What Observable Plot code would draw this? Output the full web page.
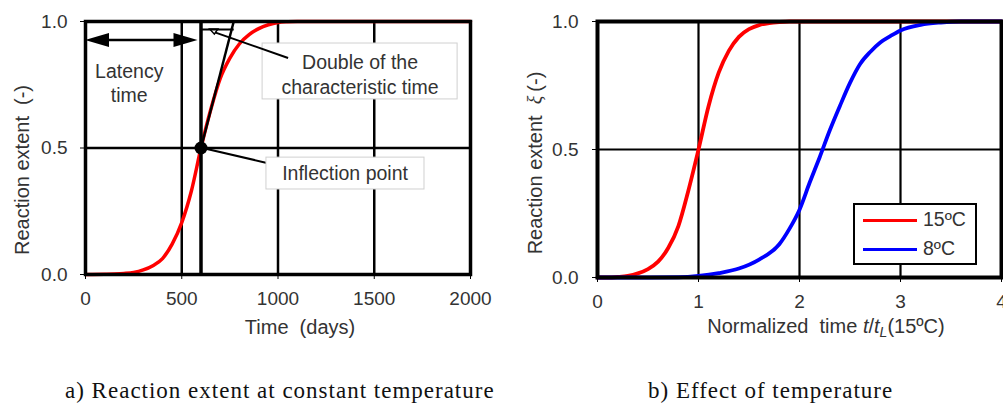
<!DOCTYPE html>
<html><head><meta charset="utf-8">
<script src="https://cdn.jsdelivr.net/npm/d3@7"></script>
<script src="https://cdn.jsdelivr.net/npm/@observablehq/plot@0.6"></script>
<style>
body{margin:0;background:#fff;}
#wrap{position:relative;width:1003px;height:405px;overflow:hidden;font-family:"Liberation Sans",Arial,sans-serif;color:#333;}
.panel{position:absolute;top:0;}
.cap{position:absolute;font-family:"Liberation Serif",serif;font-size:23px;letter-spacing:1px;color:#111;white-space:nowrap;}
.lab{position:absolute;font-size:20px;white-space:nowrap;color:#333;}
.rot{transform:translate(-50%,-50%) rotate(-90deg);}
.ctr{transform:translate(-50%,-50%);}
#legend{position:absolute;left:853px;top:203px;width:120px;height:58px;border:2.5px solid #000;background:#fff;}
.lg{position:absolute;left:8px;width:54px;height:0;border-top:3.5px solid;}
.lt{position:absolute;left:68px;font-size:19.5px;color:#333;}
</style></head><body><div id="wrap"></div>
<script>
// ---- data ----
const timeDays = [0,100,150,200,250,300,350,400,450,500,550,600,650,700,750,800,850,900,950,1000,1050,1100,1500,2000];
const extentA  = [0,0.001,0.002,0.004,0.008,0.018,0.035,0.063,0.12,0.205,0.33,0.5,0.65,0.775,0.855,0.912,0.948,0.972,0.987,0.996,0.999,1,1,1];

const tNorm15  = [0,0.1,0.2,0.3,0.4,0.5,0.6,0.7,0.8,0.9,1.0,1.1,1.2,1.3,1.4,1.5,1.6,1.7,1.8,1.9,2.0,3.0,4.0];
const extent15 = [0,0,0.002,0.006,0.016,0.033,0.062,0.115,0.2,0.34,0.5,0.67,0.8,0.885,0.94,0.97,0.986,0.994,0.998,1,1,1,1];

const tNorm8   = [0,0.5,0.8,1.0,1.2,1.4,1.6,1.8,1.9,2.0,2.1,2.2,2.3,2.4,2.5,2.6,2.7,2.8,2.9,3.0,3.2,3.4,3.6,4.0];
const extent8  = [0,0,0.001,0.006,0.017,0.035,0.07,0.13,0.19,0.265,0.37,0.47,0.575,0.67,0.76,0.834,0.881,0.918,0.943,0.965,0.987,0.996,1,1];

const xTicksA = [0,500,1000,1500,2000];
const xTicksB = [0,1,2,3,4];
const yTicks  = [0,0.5,1];
const seriesNames = ["15ºC","8ºC"];
const seriesColors = ["#ff0000","#0000ff"];
const latencyTime = 600;      // inflection / latency time (days)
const tangentTop = 770;       // tangent reaches 1.0
const latencyArrowY = 0.925;
const bracketY = 0.968;

const dataA = timeDays.map((t,i)=>({t, y: extentA[i]}));
const dataB = [
  ...tNorm15.map((t,i)=>({t, y: extent15[i], s: seriesNames[0]})),
  ...tNorm8.map((t,i)=>({t, y: extent8[i], s: seriesNames[1]}))
];

const wrap = document.getElementById("wrap");
const fmt = d3.format(".1f");
const baseStyle = {fontFamily:"Liberation Sans, Arial, sans-serif", fontSize:"19px", color:"#333", background:"transparent", overflow:"visible"};

// ---- panel a ----
const left = Plot.plot({
  width: 500, height: 340,
  marginLeft: 85, marginRight: 30, marginTop: 21, marginBottom: 66,
  style: baseStyle,
  x: {domain:[0,2000]},
  y: {domain:[0,1]},
  marks: [
    Plot.ruleX([500,1000,1500], {stroke:"#000", strokeWidth:2.5}),
    Plot.ruleY([0.5], {stroke:"#000", strokeWidth:2.5}),
    Plot.line(dataA, {x:"t", y:"y", stroke:seriesColors[0], strokeWidth:3.5, curve:"monotone-x"}),
    Plot.ruleX([latencyTime], {stroke:"#000", strokeWidth:3.5}),
    Plot.link([{x1:latencyTime, y1:0.5, x2:tangentTop, y2:1}], {x1:"x1", y1:"y1", x2:"x2", y2:"y2", stroke:"#000", strokeWidth:2.5}),
    Plot.link([{x1:latencyTime, x2:tangentTop, y:bracketY}], {x1:"x1", x2:"x2", y1:"y", y2:"y", stroke:"#000", strokeWidth:2}),
    Plot.dot([{x:latencyTime, y:0.5}], {x:"x", y:"y", r:6.5, fill:"#000"}),
    Plot.frame({stroke:"#000", strokeWidth:3.5}),
    Plot.axisX({ticks:xTicksA, tickFormat:d=>String(d), tickSize:5, tickPadding:12, stroke:"#000", fill:"#333", label:null}),
    Plot.axisY({ticks:yTicks, tickFormat:fmt, tickSize:5, tickPadding:13, stroke:"#000", fill:"#333", label:null})
  ]
});
left.classList.add("panel");
left.style.left = "0px";
wrap.appendChild(left);

// annotations for panel a (drawn with panel's own scales)
{
  const sx = left.scale("x").apply, sy = left.scale("y").apply;
  const g = d3.select(left).append("g");
  const ay = sy(latencyArrowY), x0 = sx(0), x1 = sx(latencyTime) - 3;
  g.append("line").attr("x1",x0+10).attr("x2",x1-10).attr("y1",ay).attr("y2",ay).attr("stroke","#000").attr("stroke-width",2.5);
  g.append("path").attr("d",`M${x0},${ay}L${x0+24},${ay-7}L${x0+24},${ay+7}Z`).attr("fill","#000");
  g.append("path").attr("d",`M${x1},${ay}L${x1-24},${ay-7}L${x1-24},${ay+7}Z`).attr("fill","#000");
  const tx = sx(230);
  g.append("text").attr("x",tx).attr("y",sy(0.8)).attr("text-anchor","middle").attr("dy","0.35em").attr("fill","#333").attr("font-size",19.5).text("Latency");
  g.append("text").attr("x",tx).attr("y",sy(0.705)).attr("text-anchor","middle").attr("dy","0.35em").attr("fill","#333").attr("font-size",19.5).text("time");

  // box: double of characteristic time
  g.append("rect").attr("x",sx(920)).attr("y",sy(0.913)).attr("width",sx(1933)-sx(920)).attr("height",sy(0.692)-sy(0.913))
    .attr("fill","#fff").attr("stroke","#d0d0d0").attr("stroke-width",1);
  g.append("line").attr("x1",sx(675)).attr("y1",sy(0.955)).attr("x2",sx(1055)).attr("y2",sy(0.854)).attr("stroke","#000").attr("stroke-width",2);
  g.append("path").attr("d",`M${sx(648)},${sy(bracketY)}L${sx(690)},${sy(bracketY)}L${sx(672)},${sy(0.948)}Z`).attr("fill","none").attr("stroke","#000").attr("stroke-width",1.5);
  const bx = sx(1429);
  g.append("text").attr("x",bx).attr("y",sy(0.838)).attr("text-anchor","middle").attr("dy","0.35em").attr("fill","#333").attr("font-size",19.5).text("Double of the");
  g.append("text").attr("x",bx).attr("y",sy(0.739)).attr("text-anchor","middle").attr("dy","0.35em").attr("fill","#333").attr("font-size",19.5).text("characteristic time");

  // box: inflection point
  g.append("line").attr("x1",sx(latencyTime)).attr("y1",sy(0.5)).attr("x2",sx(945)).attr("y2",sy(0.439)).attr("stroke","#000").attr("stroke-width",2);
  g.append("rect").attr("x",sx(940)).attr("y",sy(0.462)).attr("width",sx(1761)-sx(940)).attr("height",sy(0.336)-sy(0.462))
    .attr("fill","#fff").attr("stroke","#d0d0d0").attr("stroke-width",1);
  g.append("text").attr("x",sx(1351)).attr("y",sy(0.399)).attr("text-anchor","middle").attr("dy","0.35em").attr("fill","#333").attr("font-size",19.5).text("Inflection point");
}

// ---- panel b ----
const right = Plot.plot({
  width: 503, height: 340,
  marginLeft: 97, marginRight: 2, marginTop: 21, marginBottom: 63,
  style: baseStyle,
  x: {domain:[0,4]},
  y: {domain:[0,1]},
  color: {domain: seriesNames, range: seriesColors},
  marks: [
    Plot.ruleX([1,2,3], {stroke:"#000", strokeWidth:2.2}),
    Plot.ruleY([0.5], {stroke:"#000", strokeWidth:2.2}),
    Plot.line(dataB, {x:"t", y:"y", z:"s", stroke:"s", strokeWidth:3.8, curve:"monotone-x"}),
    Plot.frame({stroke:"#000", strokeWidth:4}),
    Plot.axisX({ticks:xTicksB, tickFormat:d=>String(d), tickSize:5, tickPadding:12, stroke:"#000", fill:"#333", label:null}),
    Plot.axisY({ticks:yTicks, tickFormat:fmt, tickSize:5, tickPadding:14, stroke:"#000", fill:"#333", label:null})
  ]
});
right.classList.add("panel");
right.style.left = "500px";
wrap.appendChild(right);

// ---- axis labels, legend, captions ----
function addDiv(cls, html, x, y){
  const d = document.createElement("div");
  d.className = cls; d.innerHTML = html;
  d.style.left = x + "px"; d.style.top = y + "px";
  wrap.appendChild(d); return d;
}
addDiv("lab ctr", "Time&nbsp; (days)", 300, 327);
addDiv("lab rot", "Reaction extent&nbsp; (-)", 22, 170);
addDiv("lab ctr", "Normalized&nbsp; time <i>t</i>/<i>t</i><sub style='font-size:14px;vertical-align:-4px'><i>L</i></sub>(15ºC)", 826, 327);
addDiv("lab rot", "Reaction extent&nbsp; <i style='font-family:Liberation Serif,serif'>ξ</i>&thinsp;(-)", 535, 163);

const lg = document.createElement("div");
lg.id = "legend";
seriesNames.forEach((n,i)=>{
  const l = document.createElement("div"); l.className="lg"; l.style.borderColor = seriesColors[i]; l.style.top = (14 + i*29) + "px"; lg.appendChild(l);
  const t = document.createElement("div"); t.className="lt"; t.textContent = n; t.style.top = (3 + i*29) + "px"; lg.appendChild(t);
});
wrap.appendChild(lg);

addDiv("cap", "a) Reaction extent at constant temperature", 65, 378);
addDiv("cap", "b) Effect of temperature", 648, 378);
</script>
</body></html>
